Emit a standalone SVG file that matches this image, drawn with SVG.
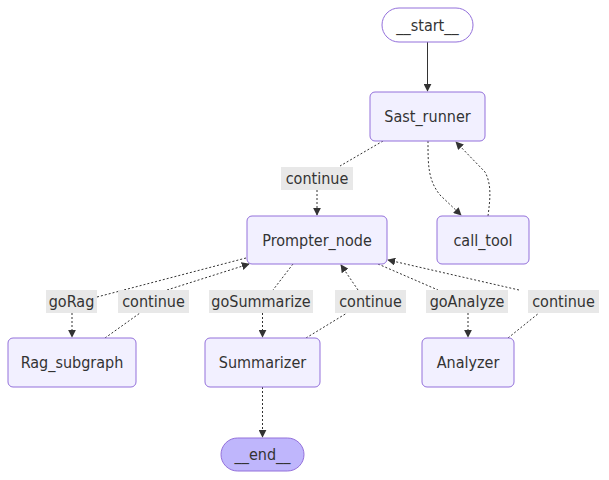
<svg xmlns="http://www.w3.org/2000/svg" width="609" height="480" viewBox="0 0 609 480">
<defs>
<style>
.node rect{fill:#f2f0ff;stroke:#9370DB;stroke-width:1}
.node text,.lbl text{font-family:"DejaVu Sans Condensed","DejaVu Sans",sans-serif;font-size:16px;fill:#333;text-anchor:middle;dominant-baseline:central}
.e{fill:none;stroke:#333;stroke-width:1;stroke-dasharray:2 2}
.s{fill:none;stroke:#333;stroke-width:1}
.lbl rect{fill:#e8e8e8;stroke:none}
</style>
<marker id="ah" viewBox="0 0 10 10" refX="9" refY="5" markerWidth="8" markerHeight="8" orient="auto" markerUnits="userSpaceOnUse"><path d="M0,0 L10,5 L0,10 z" fill="#333"/></marker>
</defs>
<rect width="609" height="480" fill="#fff"/>
<g id="connectors">
<path class="s" d="M427.5,42 L427.5,91" marker-end="url(#ah)"/>
<path class="e" d="M383,141 L340,166"/>
<path class="e" d="M317,190 L317,215" marker-end="url(#ah)"/>
<path class="e" d="M428,141 C428,165 428,180 440,195 L461,215" marker-end="url(#ah)"/>
<path class="e" d="M488,216 C490,200 492,185 485,172 L456,142" marker-end="url(#ah)"/>
<path class="e" d="M246,258 L97,297"/>
<path class="e" d="M72,313 L72,337" marker-end="url(#ah)"/>
<path class="e" d="M105,338 L140,313"/>
<path class="e" d="M167,290 L249,264" marker-end="url(#ah)"/>
<path class="e" d="M293,264 L273,290"/>
<path class="e" d="M262.5,313 L262.5,337" marker-end="url(#ah)"/>
<path class="e" d="M306,338 L347,313"/>
<path class="e" d="M358,290 L341,265" marker-end="url(#ah)"/>
<path class="e" d="M378,264 L438,290"/>
<path class="e" d="M468,313 L468,337" marker-end="url(#ah)"/>
<path class="e" d="M508,338 L539,313"/>
<path class="e" d="M519,290 L388,260" marker-end="url(#ah)"/>
<path class="e" d="M262.5,387 L262.5,437" marker-end="url(#ah)"/>
</g>
<g id="labels">
<g class="lbl"><rect x="281" y="167" width="72" height="23"/><text x="317" y="178.5">continue</text></g>
<g class="lbl"><rect x="46" y="290" width="51" height="23"/><text x="71.5" y="301.5">goRag</text></g>
<g class="lbl"><rect x="118" y="290" width="71" height="23"/><text x="153.5" y="301.5">continue</text></g>
<g class="lbl"><rect x="209" y="290" width="104" height="23"/><text x="261" y="301.5">goSummarize</text></g>
<g class="lbl"><rect x="335" y="290" width="71" height="23"/><text x="370.5" y="301.5">continue</text></g>
<g class="lbl"><rect x="426" y="290" width="82" height="23"/><text x="467" y="301.5">goAnalyze</text></g>
<g class="lbl"><rect x="528" y="290" width="71" height="23"/><text x="563.5" y="301.5">continue</text></g>
</g>
<g id="start" class="node"><rect x="382" y="8" width="91" height="34" rx="17" style="fill:#fff"/><text x="427.5" y="25">__start__</text></g>
<g id="sast_runner" class="node"><rect x="370" y="92" width="115" height="49" rx="5"/><text x="427.5" y="116.5">Sast_runner</text></g>
<g id="prompter_node" class="node"><rect x="247" y="216" width="140" height="48" rx="5"/><text x="317" y="240">Prompter_node</text></g>
<g id="call_tool" class="node"><rect x="437" y="216" width="92" height="48" rx="5"/><text x="483" y="240">call_tool</text></g>
<g id="rag_subgraph" class="node"><rect x="8" y="338" width="128" height="49" rx="5"/><text x="72" y="362.5">Rag_subgraph</text></g>
<g id="summarizer" class="node"><rect x="205" y="338" width="115" height="49" rx="5"/><text x="262.5" y="362.5">Summarizer</text></g>
<g id="analyzer" class="node"><rect x="422" y="338" width="92" height="49" rx="5"/><text x="468" y="362.5">Analyzer</text></g>
<g id="end" class="node"><rect x="221" y="438" width="83" height="33" rx="16.5" style="fill:#bfb6fc"/><text x="262.5" y="454.5">__end__</text></g>
</svg>
